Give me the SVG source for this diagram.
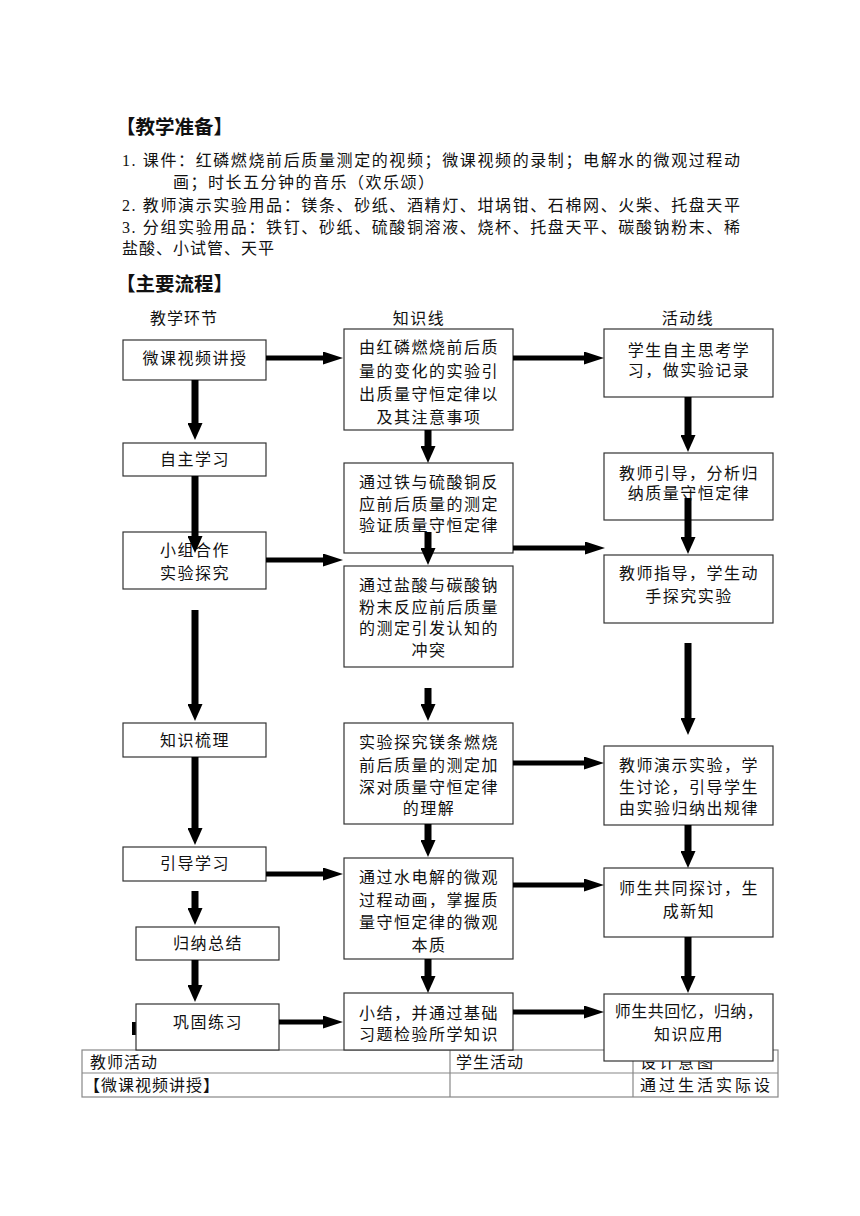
<svg xmlns="http://www.w3.org/2000/svg" width="860" height="1216" viewBox="0 0 860 1216">
<defs>
<style>
text{font-family:"Liberation Serif","Noto Sans CJK SC",sans-serif;font-size:16px;fill:#111;}
.h{font-size:19.5px;font-weight:bold;}
.t{letter-spacing:1px;}
.c{text-anchor:middle;letter-spacing:1.5px;}
.box{fill:#fff;stroke:#333;stroke-width:1.2;}
.tb{stroke:#888;stroke-width:1.2;fill:none;}
.ah{stroke:#000;stroke-width:5;fill:none;}
.av{stroke:#000;stroke-width:7;fill:none;}
</style>
<marker id="mh" markerUnits="userSpaceOnUse" markerWidth="20" markerHeight="13" refX="0" refY="6.5" orient="auto"><path d="M0,0 L20,6.5 L0,13 z" fill="#000"/></marker>
<marker id="mv" markerUnits="userSpaceOnUse" markerWidth="17" markerHeight="15" refX="0" refY="7.5" orient="auto"><path d="M0,0 L17,7.5 L0,15 z" fill="#000"/></marker>
</defs>
<rect width="860" height="1216" fill="#fff"/>

<g id="prep">
<text class="h" x="116" y="134">【教学准备】</text>
<text x="122" y="166" textLength="618" lengthAdjust="spacing">1. 课件：红磷燃烧前后质量测定的视频；微课视频的录制；电解水的微观过程动</text>
<text x="173" y="188" style="letter-spacing:1.5px">画；时长五分钟的音乐（欢乐颂）</text>
<text x="122" y="211" textLength="618" lengthAdjust="spacing">2. 教师演示实验用品：镁条、砂纸、酒精灯、坩埚钳、石棉网、火柴、托盘天平</text>
<text x="122" y="233" textLength="618" lengthAdjust="spacing">3. 分组实验用品：铁钉、砂纸、硫酸铜溶液、烧杯、托盘天平、碳酸钠粉末、稀</text>
<text class="t" x="122" y="254">盐酸、小试管、天平</text>
<text class="h" x="116" y="291">【主要流程】</text>
</g>

<g id="headers">
<text class="t" x="150" y="324">教学环节</text>
<text class="c" x="419" y="324">知识线</text>
<text class="c" x="688" y="324">活动线</text>
</g>

<g id="table">
<rect class="tb" x="82" y="1050" width="696" height="47"/>
<line class="tb" x1="82" y1="1073" x2="778" y2="1073"/>
<line class="tb" x1="450" y1="1050" x2="450" y2="1097"/>
<line class="tb" x1="633" y1="1050" x2="633" y2="1097"/>
<text class="t" x="90" y="1068">教师活动</text>
<text class="t" x="456" y="1068">学生活动</text>
<text x="640" y="1068" style="letter-spacing:3px">设计意图</text>
<text class="t" x="84" y="1091">【微课视频讲授】</text>
<text x="640" y="1091" style="letter-spacing:3px">通过生活实际设</text>
<rect x="132" y="1022" width="4" height="13" fill="#000"/>
</g>

<g id="L1"><rect class="box" x="123" y="340" width="143" height="40"/><text class="c" x="195" y="364">微课视频讲授</text></g>
<g id="L2"><rect class="box" x="123" y="443" width="143" height="33"/><text class="c" x="195" y="465">自主学习</text></g>
<g id="L3"><rect class="box" x="123" y="532" width="143" height="57"/><text class="c" x="195" y="556">小组合作</text><text class="c" x="195" y="579">实验探究</text></g>
<g id="L4"><rect class="box" x="123" y="723" width="143" height="34"/><text class="c" x="195" y="746">知识梳理</text></g>
<g id="L5"><rect class="box" x="123" y="847" width="143" height="34"/><text class="c" x="195" y="869">引导学习</text></g>
<g id="L6"><rect class="box" x="136" y="927" width="143" height="33"/><text class="c" x="208" y="949">归纳总结</text></g>
<g id="L7"><rect class="box" x="136" y="1004" width="143" height="46"/><text class="c" x="208" y="1028">巩固练习</text></g>

<g id="M1"><rect class="box" x="344" y="329" width="169" height="101"/>
<text class="c" x="429" y="353">由红磷燃烧前后质</text><text class="c" x="429" y="377">量的变化的实验引</text><text class="c" x="429" y="400">出质量守恒定律以</text><text class="c" x="429" y="423">及其注意事项</text></g>
<g id="M2"><rect class="box" x="344" y="463" width="169" height="90"/>
<text class="c" x="429" y="488">通过铁与硫酸铜反</text><text class="c" x="429" y="510">应前后质量的测定</text><text class="c" x="429" y="531">验证质量守恒定律</text></g>
<g id="M3"><rect class="box" x="344" y="566" width="169" height="101"/>
<text class="c" x="429" y="591">通过盐酸与碳酸钠</text><text class="c" x="429" y="613">粉末反应前后质量</text><text class="c" x="429" y="634">的测定引发认知的</text><text class="c" x="429" y="656">冲突</text></g>
<g id="M4"><rect class="box" x="344" y="723" width="169" height="101"/>
<text class="c" x="429" y="748">实验探究镁条燃烧</text><text class="c" x="429" y="771">前后质量的测定加</text><text class="c" x="429" y="793">深对质量守恒定律</text><text class="c" x="429" y="814">的理解</text></g>
<g id="M5"><rect class="box" x="344" y="858" width="169" height="101"/>
<text class="c" x="429" y="883">通过水电解的微观</text><text class="c" x="429" y="906">过程动画，掌握质</text><text class="c" x="429" y="928">量守恒定律的微观</text><text class="c" x="429" y="951">本质</text></g>
<g id="M6"><rect class="box" x="344" y="993" width="169" height="57"/>
<text class="c" x="429" y="1019">小结，并通过基础</text><text class="c" x="429" y="1040">习题检验所学知识</text></g>

<g id="R1"><rect class="box" x="604" y="329" width="169" height="68"/>
<text class="c" x="689" y="356">学生自主思考学</text><text class="c" x="689" y="376">习，做实验记录</text></g>
<g id="R2"><rect class="box" x="604" y="453" width="169" height="67"/>
<text class="c" x="689" y="479">教师引导，分析归</text><text class="c" x="689" y="499">纳质量守恒定律</text></g>
<g id="R3"><rect class="box" x="604" y="555" width="169" height="68"/>
<text class="c" x="689" y="579">教师指导，学生动</text><text class="c" x="689" y="602">手探究实验</text></g>
<g id="R4"><rect class="box" x="604" y="746" width="169" height="79"/>
<text class="c" x="689" y="771">教师演示实验，学</text><text class="c" x="689" y="793">生讨论，引导学生</text><text class="c" x="689" y="814">由实验归纳出规律</text></g>
<g id="R5"><rect class="box" x="604" y="868" width="169" height="69"/>
<text class="c" x="689" y="894">师生共同探讨，生</text><text class="c" x="689" y="917">成新知</text></g>
<g id="R6"><rect class="box" x="604" y="994" width="169" height="67"/>
<text class="c" x="689" y="1017" style="letter-spacing:0.5px">师生共回忆，归纳，</text><text class="c" x="689" y="1040">知识应用</text></g>

<g id="connectors">
<line class="ah" x1="266" y1="358" x2="323" y2="358" marker-end="url(#mh)"/>
<line class="ah" x1="513" y1="358" x2="584" y2="358" marker-end="url(#mh)"/>
<line class="ah" x1="513" y1="548" x2="585" y2="548" marker-end="url(#mh)"/>
<line class="ah" x1="266" y1="560" x2="323" y2="560" marker-end="url(#mh)"/>
<line class="ah" x1="513" y1="763" x2="584" y2="763" marker-end="url(#mh)"/>
<line class="ah" x1="266" y1="874" x2="323" y2="874" marker-end="url(#mh)"/>
<line class="ah" x1="513" y1="885" x2="584" y2="885" marker-end="url(#mh)"/>
<line class="ah" x1="279" y1="1022" x2="323" y2="1022" marker-end="url(#mh)"/>
<line class="ah" x1="513" y1="1012" x2="584" y2="1012" marker-end="url(#mh)"/>

<line class="av" x1="195" y1="380" x2="195" y2="423" marker-end="url(#mv)"/>
<line class="av" x1="195" y1="476" x2="195" y2="536" marker-end="url(#mv)"/>
<line class="av" x1="195" y1="610" x2="195" y2="704" marker-end="url(#mv)"/>
<line class="av" x1="195" y1="757" x2="195" y2="828" marker-end="url(#mv)"/>
<line class="av" x1="195" y1="891" x2="195" y2="908" marker-end="url(#mv)"/>
<line class="av" x1="195" y1="960" x2="195" y2="985" marker-end="url(#mv)"/>
<line class="av" x1="428" y1="430" x2="428" y2="446" marker-end="url(#mv)"/>
<line class="av" x1="428" y1="532" x2="428" y2="548" marker-end="url(#mv)"/>
<line class="av" x1="428" y1="688" x2="428" y2="704" marker-end="url(#mv)"/>
<line class="av" x1="428" y1="824" x2="428" y2="840" marker-end="url(#mv)"/>
<line class="av" x1="428" y1="959" x2="428" y2="976" marker-end="url(#mv)"/>
<line class="av" x1="688" y1="397" x2="688" y2="435" marker-end="url(#mv)"/>
<line class="av" x1="688" y1="498" x2="688" y2="537" marker-end="url(#mv)"/>
<line class="av" x1="688" y1="643" x2="688" y2="718" marker-end="url(#mv)"/>
<line class="av" x1="688" y1="825" x2="688" y2="851" marker-end="url(#mv)"/>
<line class="av" x1="688" y1="937" x2="688" y2="976" marker-end="url(#mv)"/>
</g>
</svg>
